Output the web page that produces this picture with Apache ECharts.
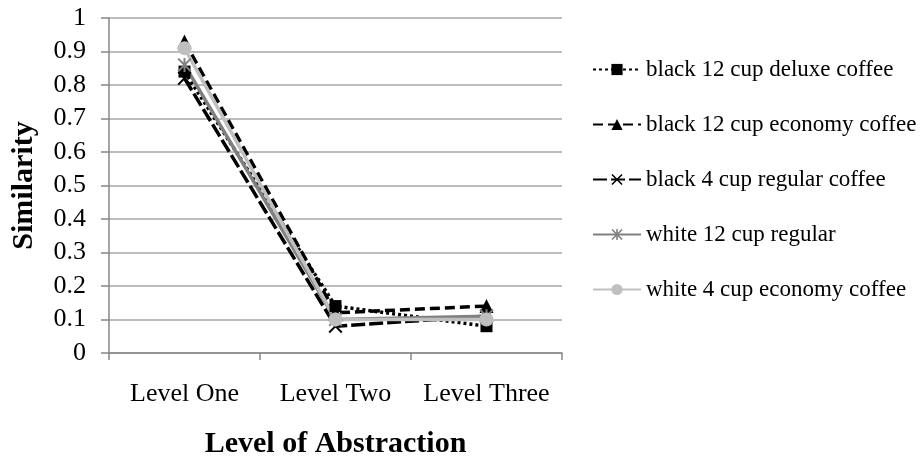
<!DOCTYPE html>
<html>
<head>
<meta charset="utf-8">
<script src="https://cdn.jsdelivr.net/npm/echarts@6/dist/echarts.min.js"></script>
<style>
  html, body { margin: 0; padding: 0; background: #fff; }
  #chart { width: 921px; height: 458px; }
</style>
</head>
<body>
<div id="chart"></div>
<script>
// Similarity of coffee-maker products at each level of abstraction
const levels = ['Level One', 'Level Two', 'Level Three'];
const yTicks = ['0', '0.1', '0.2', '0.3', '0.4', '0.5', '0.6', '0.7', '0.8', '0.9', '1'];

const black12Deluxe  = [0.84, 0.14, 0.08];
const black12Economy = [0.93, 0.12, 0.14];
const black4Regular  = [0.82, 0.08, 0.11];
const white12Regular = [0.86, 0.10, 0.11];
const white4Economy  = [0.91, 0.10, 0.10];

const FONT = 'Liberation Serif';

// marker shapes: a cross and an asterisk
const crossPath = 'path://M0,1 L1,0 L5,4 L9,0 L10,1 L6,5 L10,9 L9,10 L5,6 L1,10 L0,9 L4,5 Z';
const starPath = 'path://M0,1 L1,0 L5,4 L9,0 L10,1 L6,5 L10,9 L9,10 L5,6 L1,10 L0,9 L4,5 Z M4.3,0 L5.7,0 L5.7,10 L4.3,10 Z';

function line(name, data, color, dash, symbol, size) {
  return {
    name: name,
    type: 'line',
    data: data,
    symbol: symbol,
    symbolSize: size,
    showAllSymbol: true,
    animation: false,
    lineStyle: { color: color, width: 3.5, type: dash },
    itemStyle: { color: color, borderWidth: 0 },
    emphasis: { disabled: true }
  };
}

const chart = echarts.init(document.getElementById('chart'), null, { renderer: 'canvas' });
chart.setOption({
  backgroundColor: '#ffffff',
  animation: false,
  textStyle: { fontFamily: FONT },
  grid: { left: 109, right: 359, top: 18, bottom: 105, containLabel: false, outerBoundsMode: 'none' },
  legend: {
    orient: 'vertical',
    left: 587,
    top: 53,
    itemGap: 32,
    itemWidth: 48,
    itemHeight: 14,
    textStyle: { fontFamily: FONT, fontSize: 23, color: '#000' },
    data: ['black 12 cup deluxe coffee', 'black 12 cup economy coffee',
           'black 4 cup regular coffee', 'white 12 cup regular', 'white 4 cup economy coffee']
  },
  xAxis: {
    type: 'category',
    data: levels,
    boundaryGap: true,
    name: 'Level of Abstraction',
    nameLocation: 'middle',
    nameGap: 76,
    nameTextStyle: { fontFamily: FONT, fontSize: 30, fontWeight: 'bold', color: '#000' },
    axisLine: { lineStyle: { color: '#868686', width: 1.5 } },
    axisTick: { show: true, inside: false, length: 7, interval: 0, alignWithLabel: false,
                lineStyle: { color: '#868686', width: 1.5 } },
    axisLabel: { fontFamily: FONT, fontSize: 26, color: '#000', margin: 28, interval: 0 },
    splitLine: { show: false }
  },
  yAxis: {
    type: 'value',
    min: 0,
    max: 1,
    interval: 0.1,
    name: 'Similarity',
    nameLocation: 'middle',
    nameGap: 70,
    nameRotate: 90,
    nameTextStyle: { fontFamily: FONT, fontSize: 30, fontWeight: 'bold', color: '#000' },
    axisLine: { show: true, lineStyle: { color: '#868686', width: 1.5 } },
    axisTick: { show: true, inside: false, length: 8, lineStyle: { color: '#868686', width: 1.5 } },
    axisLabel: {
      fontFamily: FONT, fontSize: 26, color: '#000', margin: 23,
      formatter: function (v) { return yTicks[Math.round(v * 10)]; }
    },
    splitLine: { show: true, lineStyle: { color: '#a6a6a6', width: 1.5 } }
  },
  series: [
    line('black 12 cup deluxe coffee', black12Deluxe, '#000000', [3, 3], 'rect', 12),
    line('black 12 cup economy coffee', black12Economy, '#000000', [10, 5], 'triangle', 14),
    line('black 4 cup regular coffee', black4Regular, '#000000', [14, 4], crossPath, 14),
    line('white 12 cup regular', white12Regular, '#808080', 'solid', starPath, 14),
    line('white 4 cup economy coffee', white4Economy, '#bfbfbf', 'solid', 'circle', 14)
  ]
});
</script>
</body>
</html>
